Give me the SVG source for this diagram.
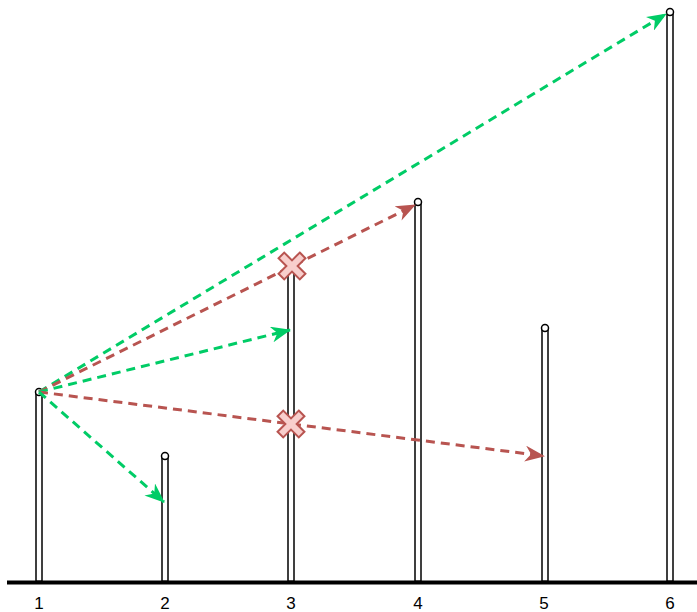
<svg xmlns="http://www.w3.org/2000/svg" width="697" height="612" viewBox="0 0 697 612">
<style>
.pole rect{fill:#fff;stroke:#000;stroke-width:1.5}
.pole circle{fill:#fff;stroke:#000;stroke-width:1.5}
.lbl{font-family:"Liberation Sans",Arial,sans-serif;font-size:17px;fill:#000;text-anchor:middle}
.g{stroke:#00CC66;stroke-width:3;stroke-dasharray:9,6;fill:none;marker-end:url(#ag)}
.r{stroke:#B85450;stroke-width:3;stroke-dasharray:9,6;fill:none;marker-end:url(#ar)}
.x{fill:#F8CECC;stroke:#B85450;stroke-width:2}
</style>
<defs>
<marker id="ag" viewBox="0 0 20 16" refX="19" refY="8" markerWidth="20" markerHeight="16" orient="auto" markerUnits="userSpaceOnUse"><path d="M0,0 L20,8 L0,16 L6,8 Z" fill="#00CC66"/></marker>
<marker id="ar" viewBox="0 0 20 16" refX="19" refY="8" markerWidth="20" markerHeight="16" orient="auto" markerUnits="userSpaceOnUse"><path d="M0,0 L20,8 L0,16 L6,8 Z" fill="#B85450"/></marker>
<polygon id="xs" points="-4,-15 4,-15 4,-4 15,-4 15,4 4,4 4,15 -4,15 -4,4 -15,4 -15,-4 -4,-4" transform="rotate(45)"/>
</defs>
<line x1="7" y1="582.5" x2="697" y2="582.5" stroke="#000" stroke-width="4"/>
<g id="pole1" class="pole"><rect x="36" y="392" width="6" height="189"/><circle cx="39" cy="392" r="3.5"/></g>
<g id="pole2" class="pole"><rect x="162" y="456" width="6" height="125"/><circle cx="165" cy="456" r="3.5"/></g>
<g id="pole3" class="pole"><rect x="288" y="266" width="6" height="315"/><circle cx="291" cy="266" r="3.5"/></g>
<g id="pole4" class="pole"><rect x="415" y="202" width="6" height="379"/><circle cx="418" cy="202" r="3.5"/></g>
<g id="pole5" class="pole"><rect x="542" y="328" width="6" height="253"/><circle cx="545" cy="328" r="3.5"/></g>
<g id="pole6" class="pole"><rect x="667" y="12" width="6" height="569"/><circle cx="670" cy="12" r="3.5"/></g>
<g id="connectors">
<line class="g" x1="39" y1="392" x2="666" y2="14"/>
<line class="r" x1="39" y1="392" x2="415" y2="205"/>
<line class="g" x1="39" y1="392" x2="290" y2="330"/>
<line class="r" x1="39" y1="392" x2="544" y2="456"/>
<line class="g" x1="39" y1="392" x2="164" y2="502"/>
</g>
<g id="x1"><use href="#xs" class="x" transform="translate(292,266)"/></g>
<g id="x2"><use href="#xs" class="x" transform="translate(291,424)"/></g>
<g id="labels">
<text class="lbl" x="39" y="609">1</text>
<text class="lbl" x="165" y="609">2</text>
<text class="lbl" x="291" y="609">3</text>
<text class="lbl" x="418" y="609">4</text>
<text class="lbl" x="544" y="609">5</text>
<text class="lbl" x="670" y="609">6</text>
</g>
</svg>
